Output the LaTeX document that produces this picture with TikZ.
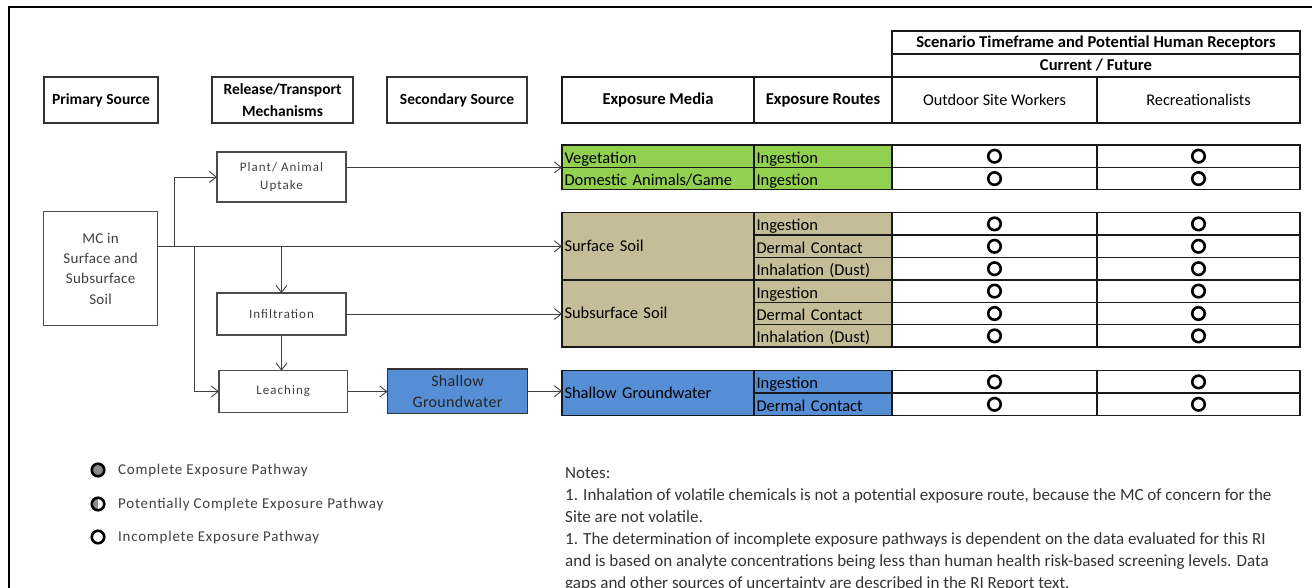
\documentclass[tikz,border=0pt]{standalone}
\usepackage{fontspec}
\setmainfont{Carlito}
\newfontfamily\spacedfont[LetterSpace=8]{Carlito}
\newfontfamily\legendfont[LetterSpace=5]{Carlito}
\newfontfamily\boxfont[LetterSpace=2]{Carlito}
\usetikzlibrary{arrows.meta}
\definecolor{veggreen}{HTML}{92D050}
\definecolor{soiltan}{HTML}{C4BD97}
\definecolor{waterblue}{HTML}{558ED5}
\definecolor{inkgray}{HTML}{404040}
\tikzset{
  stagebox/.style={draw=black!80, line width=1.2pt, anchor=north west, inner sep=0pt, outer sep=0pt, align=center},
  headbox/.style={stagebox, minimum height=46pt, font=\bfseries\fontsize{15.5}{22}\selectfont},
  flowbox/.style={stagebox, draw=black!70, text=inkgray, font=\spacedfont\fontsize{13}{18.7}\selectfont},
  cell/.style={draw=black!90, line width=1.4pt, anchor=north west, inner sep=0pt, outer sep=0pt, minimum height=22.4pt, align=center},
  headcell/.style={cell, minimum height=23pt, font=\bfseries\fontsize{16.6}{20}\selectfont},
  mediacell/.style={cell, minimum width=192pt, text width=187pt, inner xsep=2.5pt, align=left, text height=14pt, text depth=0pt, font=\fontsize{16.5}{20}\selectfont},
  routecell/.style={mediacell, minimum width=138pt, text width=133pt},
  flowline/.style={draw=inkgray, line width=0.9pt},
  flowarrow/.style={flowline, -{Straight Barb[length=7pt,width=11pt]}},
  ring/.style={circle, draw=black, line width=2.6pt, minimum size=12.5pt, inner sep=0pt},
  legendtext/.style={anchor=west, inner sep=0pt, text=inkgray, font=\legendfont\fontsize{15}{18}\selectfont},
}
\begin{document}
\begin{tikzpicture}[x=1pt,y=-1pt]
\useasboundingbox (0,0) rectangle (1312,588);
\draw[line width=1.3pt] (9,588) -- (9,7) -- (1312,7);
\node[headbox, minimum width=114pt] (primary) at (44,77) {Primary Source};
\node[headbox, minimum width=141pt] (release) at (212,77) {Release/Transport\\Mechanisms};
\node[headbox, minimum width=140pt] (secondary) at (387,77) {Secondary Source};
\node[headcell, minimum width=408pt] (scenario) at (892,31) {Scenario Timeframe and Potential Human Receptors};
\node[headcell, minimum width=408pt] (timeframe) at (892,54) {Current / Future};
\node[headcell, minimum width=192pt, minimum height=46pt] (media) at (562,77) {Exposure Media};
\node[headcell, minimum width=138pt, minimum height=46pt] (routes) at (754,77) {Exposure Routes};
\node[cell, minimum width=205pt, minimum height=46pt, font=\fontsize{16.3}{20}\selectfont] (workers) at (892,77) {Outdoor Site Workers};
\node[cell, minimum width=203pt, minimum height=46pt, font=\fontsize{16.3}{20}\selectfont] (recreation) at (1097,77) {Recreationalists};
\foreach \y [count=\i] in {145,167.4,212.7,235.1,257.5,279.9,302.3,324.7,370.7,393.1}{
  \node[cell, minimum width=205pt] (w\i) at (892,\y) {};
  \node[cell, minimum width=203pt] (r\i) at (1097,\y) {};
  \node[ring] at (w\i) {};
  \node[ring] at (r\i) {};
}
\foreach \y/\route/\shade [count=\i] in {145/Ingestion/veggreen, 167.4/Ingestion/veggreen,
  212.7/Ingestion/soiltan, 235.1/Dermal Contact/soiltan, 257.5/Inhalation (Dust)/soiltan,
  279.9/Ingestion/soiltan, 302.3/Dermal Contact/soiltan, 324.7/Inhalation (Dust)/soiltan,
  370.7/Ingestion/waterblue, 393.1/Dermal Contact/waterblue}
  \node[routecell, fill=\shade] (route\i) at (754,\y) {\route};
\node[mediacell, fill=veggreen] (veg) at (562,145) {Vegetation};
\node[mediacell, fill=veggreen] (game) at (562,167.4) {Domestic Animals/Game};
\node[mediacell, fill=soiltan, minimum height=67.2pt, text height=12pt, text depth=2pt] (surface) at (562,212.7) {Surface Soil};
\node[mediacell, fill=soiltan, minimum height=67.2pt, text height=12pt, text depth=2pt] (subsurface) at (562,279.9) {Subsurface Soil};
\node[mediacell, fill=waterblue, minimum height=44.8pt, text height=12pt, text depth=2pt] (water) at (562,370.7) {Shallow Groundwater};
\node[flowbox, minimum width=114pt, minimum height=114pt, font=\boxfont\fontsize{15}{20.3}\selectfont] (mc) at (43.6,211.7) {MC in\\Surface and\\Subsurface\\Soil};
\node[flowbox, minimum width=129pt, minimum height=50pt] (uptake) at (217,152) {Plant/ Animal\\Uptake};
\node[flowbox, minimum width=129pt, minimum height=42pt] (infiltration) at (217,293) {Infiltration};
\node[flowbox, minimum width=128.5pt, minimum height=41.6pt] (leaching) at (219,370.7) {Leaching};
\node[flowbox, fill=waterblue, draw=black!80, text=black!85, minimum width=140pt, minimum height=44.3pt, font=\boxfont\fontsize{16}{21}\selectfont] (groundwater) at (387.5,369) {Shallow\\Groundwater};
\coordinate (mcout) at (mc.east |- surface.west);
\path (mcout) ++(16.8,0) coordinate (split1) ++(19.7,0) coordinate (split2);
\draw[flowarrow] (mcout) -- (surface.west);
\draw[flowarrow] (split1) |- (uptake.west);
\draw[flowarrow] (split2) |- (leaching.west);
\draw[flowarrow] (infiltration.north |- mcout) -- (infiltration.north);
\draw[flowarrow] (infiltration.south) -- (infiltration.south |- leaching.north);
\draw[flowarrow] (uptake.east |- veg.south west) -- (veg.south west);
\draw[flowarrow] (infiltration.east) -- (infiltration.east -| subsurface.west);
\draw[flowarrow] (leaching.east) -- (leaching.east -| groundwater.west);
\draw[flowarrow] (groundwater.east) -- (groundwater.east -| water.west);
\node[ring, fill=black!45] (complete) at (98,470) {};
\node[ring, path picture={\fill[black!45] (path picture bounding box.south west) rectangle (path picture bounding box.north);}] (potential) at (98,504) {};
\node[ring] (incomplete) at (98,537) {};
\node[legendtext] (completetext) at (118,470) {Complete Exposure Pathway};
\node[legendtext] (potentialtext) at (118,504) {Potentially Complete Exposure Pathway};
\node[legendtext] (incompletetext) at (118,537) {Incomplete Exposure Pathway};
\node[anchor=north west, inner sep=0pt, align=left, text=black!80, font=\fontsize{17}{22}\selectfont] (notes) at (565,467) {Notes:\\
1. Inhalation of volatile chemicals is not a potential exposure route, because the MC of concern for the\\
Site are not volatile.\\
1. The determination of incomplete exposure pathways is dependent on the data evaluated for this RI\\
and is based on analyte concentrations being less than human health risk-based screening levels. Data\\
gaps and other sources of uncertainty are described in the RI Report text.};
\end{tikzpicture}
\end{document}
